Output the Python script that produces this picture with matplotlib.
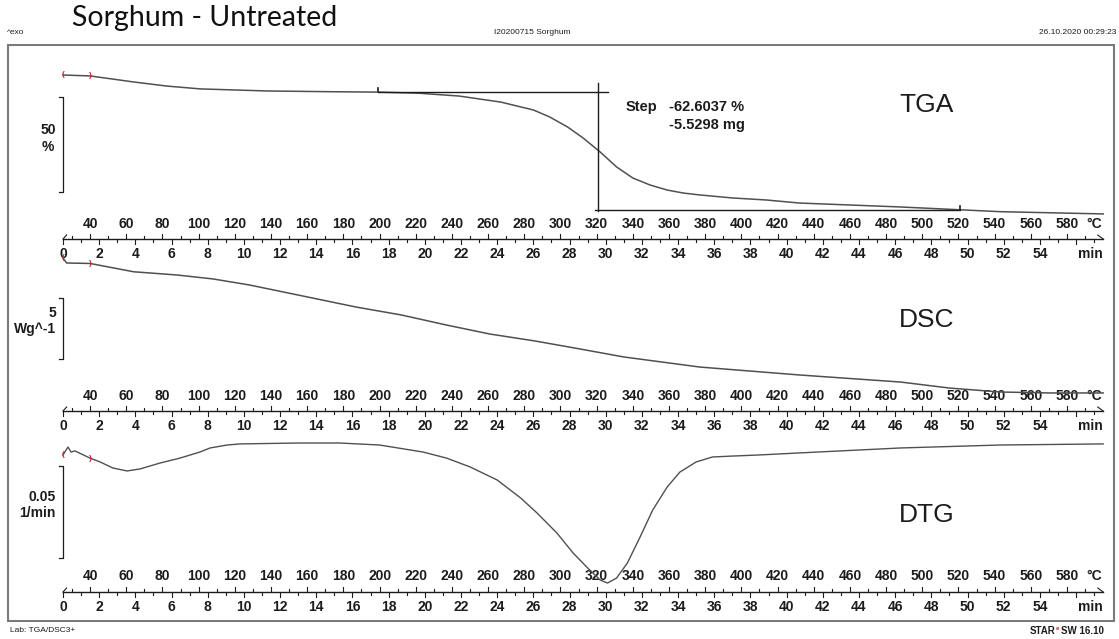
import matplotlib
matplotlib.use("Agg")
import matplotlib.pyplot as plt
import matplotlib.transforms as mtransforms
from matplotlib.patches import Rectangle

plt.rcParams['font.family'] = ['Liberation Sans', 'DejaVu Sans']

# ---- values ----
# TGA, mass in % vs time in min
tga_time = [0, 1.5, 3.9, 5.75, 7.6, 11.3, 14.9, 17.4, 19.7, 21.9, 24.2, 26.0, 26.9,
            27.9, 28.75, 29.7, 30.6, 31.5, 32.45, 33.4, 34.3, 35.2, 37.0, 38.9,
            40.7, 46.3, 49.6, 51.8, 57.5]
tga_mass = [100, 99.5, 96.3, 94.1, 92.6, 91.5, 91.1, 90.9, 90.3, 88.8, 85.6, 81.4,
            77.7, 72.3, 66.5, 59.0, 51.1, 45.2, 41.5, 38.8, 37.2, 36.2, 34.6, 33.5,
            31.9, 29.8, 28.3, 27.3, 26.1]

# DSC, heat flow in W/g
dsc_time = [0, 0.2, 1.5, 3.9, 6.3, 8.3, 10.3, 13.8, 16.2, 18.7, 21.2, 23.6, 26.1,
            28.6, 31.0, 33.5, 35.2, 40.7, 46.3, 49.0, 51.8, 54.5, 57.5]
dsc_flow = [0.17, -0.25, -0.29, -0.98, -1.25, -1.58, -2.08, -3.17, -3.92, -4.58,
            -5.42, -6.17, -6.75, -7.42, -8.08, -8.58, -8.92, -9.58, -10.17, -10.67,
            -11.0, -11.08, -11.08]

# DTG, 1/min
dtg_time = [0, 0.17, 0.28, 0.44, 0.66, 1.49, 2.05, 2.76, 3.54, 4.26, 5.36, 6.47,
            7.57, 8.13, 9.07, 9.78, 13.1, 15.3, 17.5, 19.9, 21.2, 22.5, 24.0, 25.3,
            26.2, 27.3, 28.2, 29.0, 29.7, 30.1, 30.6, 31.2, 31.9, 32.6, 33.4, 34.1,
            35.0, 35.9, 37.0, 38.5, 40.7, 46.3, 51.8, 57.5]
dtg_rate = [-0.0065, -0.0038, -0.0022, -0.0049, -0.0043, -0.0082, -0.0103, -0.0136,
            -0.0152, -0.0141, -0.0109, -0.0082, -0.0049, -0.0027, -0.0011, -0.0005,
            0.0, 0.0, -0.0011, -0.0049, -0.0082, -0.0130, -0.0201, -0.0299, -0.0380,
            -0.0489, -0.0598, -0.0679, -0.0745, -0.0761, -0.0734, -0.0652, -0.0511,
            -0.0364, -0.0239, -0.0158, -0.0103, -0.0076, -0.0071, -0.0065, -0.0054,
            -0.0027, -0.0011, -0.0005]

# step evaluation on the TGA curve
step_left = [17.4, 30.1]      # time range of upper baseline
step_right = [29.4, 49.6]     # time range of lower baseline
step_levels = [91.0, 28.4]    # mass %
step_time = 29.6
step_text = ["-62.6037 %", "-5.5298 mg"]

time_ticks = list(range(0, 56, 2))
temp_ticks = list(range(40, 600, 20))
T_START, T_RATE, T_END = 25.0, 10.0, 600.0

# ---- page layout (pixels) ----
W, H = 1119, 639
X0, PX_MIN = 63.0, 18.09
INK = '#1c1c1c'
CURVE = '#505050'
RED = '#c0282d'

fig = plt.figure(figsize=(W / 100, H / 100), dpi=100)
base = fig.add_axes([0, 0, 1, 1])
base.set_xlim(0, W)
base.set_ylim(H, 0)
base.axis('off')


def data_axes(v0, y0, ppu):
    # axes over the whole page, value v0 sits at pixel row y0
    ax = fig.add_axes([0, 0, 1, 1], zorder=3)
    ax.set_xlim(-X0 / PX_MIN, (W - X0) / PX_MIN)
    ax.set_ylim(v0 - (H - y0) / ppu, v0 + y0 / ppu)
    ax.axis('off')
    ax.patch.set_visible(False)
    return ax


ax_tga = data_axes(100.0, 75.0, 1.88)
ax_dsc = data_axes(0.0, 260.0, 12.0)
ax_dtg = data_axes(0.0, 443.0, 1840.0)

ax_tga.plot(tga_time, tga_mass, color=CURVE, lw=1.1)
ax_dsc.plot(dsc_time, dsc_flow, color=CURVE, lw=1.1)
ax_dtg.plot(dtg_time, dtg_rate, color=CURVE, lw=1.0)

# step lines
ax_tga.plot(step_left, [step_levels[0]] * 2, color=INK, lw=1.0)
ax_tga.plot(step_right, [step_levels[1]] * 2, color=INK, lw=1.0)
ax_tga.plot([step_time, step_time], [96.0, 27.5], color=INK, lw=1.0)
ax_tga.plot([step_left[0]] * 2, [step_levels[0] + 0.6, step_levels[0] + 2.0], color=INK, lw=1.2)
ax_tga.plot([step_right[1]] * 2, [step_levels[1] + 0.4, step_levels[1] + 1.8], color=INK, lw=1.2)

# red evaluation limits at the start of every curve
for ax, vv, k in [(ax_tga, tga_mass, 1), (ax_dsc, dsc_flow, 2), (ax_dtg, dtg_rate, 5)]:
    ax.text(0, vv[0], '(', color=RED, fontsize=6, fontweight='bold', ha='center', va='center')
    ax.text(1.5, vv[k], ')', color=RED, fontsize=6, fontweight='bold', ha='center', va='center')

# double axes: temperature above, time below
tx = mtransforms.blended_transform_factory(ax_tga.transData, base.transData)
t_end = (T_END - T_START) / T_RATE
for y_temp, y_line, y_time in [(224, 239, 254), (396, 411, 426), (576, 592, 607)]:
    ax_tga.plot([0, t_end], [y_line, y_line], color=INK, lw=1.0, transform=tx, clip_on=False)
    ax_tga.plot([0, 0.2], [y_line, y_line - 4], color=INK, lw=0.8, transform=tx, clip_on=False)
    ax_tga.plot([t_end - 0.3, t_end], [y_line - 4, y_line], color=INK, lw=0.8, transform=tx, clip_on=False)
    for m in range(0, 58):
        ln = 5 if m % 2 == 0 else 3
        ax_tga.plot([m, m], [y_line, y_line + ln], color=INK, lw=0.8, transform=tx, clip_on=False)
    for T in range(30, 600, 10):
        t = (T - T_START) / T_RATE
        ln = 5 if T % 20 == 0 else 3
        ax_tga.plot([t, t], [y_line, y_line - ln], color=INK, lw=0.8, transform=tx, clip_on=False)
    for T in temp_ticks:
        ax_tga.text((T - T_START) / T_RATE, y_temp, str(T), transform=tx, ha='center',
                    va='center', fontsize=10, fontweight='bold', color=INK)
    ax_tga.text(57.45, y_temp, '°C', transform=tx, ha='right', va='center',
                fontsize=10, fontweight='bold', color=INK)
    for m in time_ticks:
        ax_tga.text(m, y_time, str(m), transform=tx, ha='center', va='center',
                    fontsize=10, fontweight='bold', color=INK)
    ax_tga.text(57.45, y_time, 'min', transform=tx, ha='right', va='center',
                fontsize=10, fontweight='bold', color=INK)

# scale bars
for top, bot, lab, yl in [(97, 192, ['50', '%'], [130, 147]),
                          (298, 359, ['5', 'Wg^-1'], [313, 329]),
                          (466, 558, ['0.05', '1/min'], [497, 513])]:
    base.plot([59, 63, 63, 59], [top, top, bot, bot], color=INK, lw=0.9)
    base.text(56, yl[0], lab[0], ha='right', va='center', fontsize=10,
              fontweight='bold', color=INK)
    if lab[1] == '%':
        base.text(48, yl[1], lab[1], ha='center', va='center', fontsize=10,
                  fontweight='bold', color=INK)
    else:
        base.text(56, yl[1], lab[1], ha='right', va='center', fontsize=10,
                  fontweight='bold', color=INK)

# curve names
for name, y in [('TGA', 105), ('DSC', 320), ('DTG', 515)]:
    base.text(927, y, name, ha='center', va='center', fontsize=19, color=INK)

base.text(626, 107, 'Step', ha='left', va='center', fontsize=10.5, fontweight='bold', color=INK)
base.text(669, 107, step_text[0], ha='left', va='center', fontsize=10.5, fontweight='bold', color=INK)
base.text(669, 125, step_text[1], ha='left', va='center', fontsize=10.5, fontweight='bold', color=INK)

# frame and header / footer
base.add_patch(Rectangle((8, 45), 1106, 576, fill=False, edgecolor='#7a7a7a', lw=1.5))
base.text(72, 18, 'Sorghum - Untreated', ha='left', va='center', fontsize=20.5,
          family=['Lato', 'DejaVu Sans'], color='#111111')
base.text(7, 32, '^exo', ha='left', va='center', fontsize=6, color=INK)
base.text(532, 32, 'I20200715 Sorghum', ha='center', va='center', fontsize=6, color=INK)
base.text(1116, 32, '26.10.2020 00:29:23', ha='right', va='center', fontsize=6, color=INK)
base.text(10, 631, 'Lab: TGA/DSC3+', ha='left', va='center', fontsize=6, color=INK)
base.text(1055, 631, 'STAR', ha='right', va='center', fontsize=7, fontweight='bold', color=INK)
base.text(1055.5, 628, 'e', ha='left', va='center', fontsize=4.5, fontweight='bold', color=RED)
base.text(1104, 631, 'SW 16.10', ha='right', va='center', fontsize=7, fontweight='bold', color=INK)

fig.savefig('out.png', dpi=100)
